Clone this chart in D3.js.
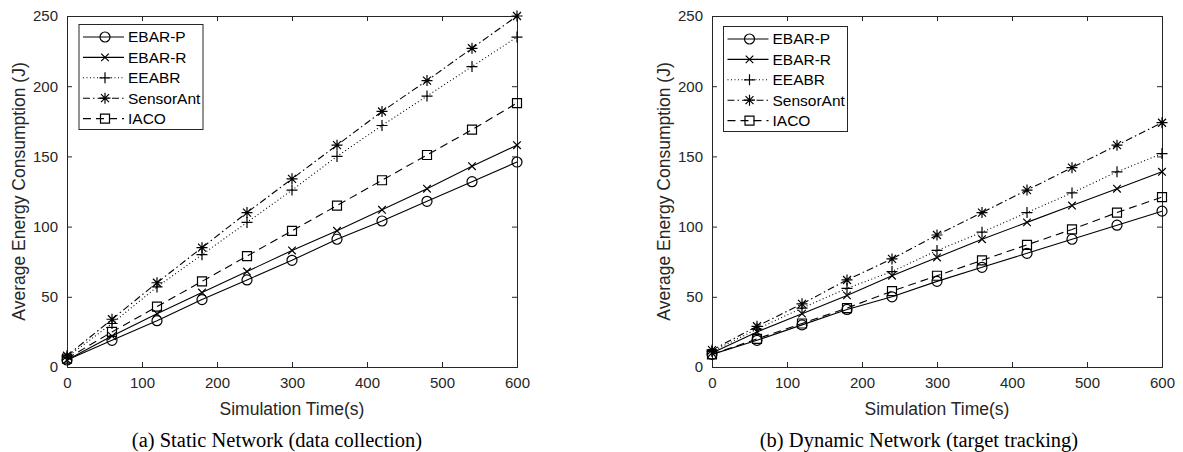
<!DOCTYPE html>
<html><head><meta charset="utf-8">
<script src="https://cdn.jsdelivr.net/npm/d3@7"></script>
<style>body{margin:0;background:#fff}svg{display:block}</style>
</head><body>
<svg id="c" width="1183" height="452"></svg>
<script>
const times = [0,60,120,180,240,300,360,420,480,540,600];
const seriesNames = ["EBAR-P","EBAR-R","EEABR","SensorAnt","IACO"];
const staticEBARP     = [5,19,33,48,62,76,91,104,118,132,146];
const staticEBARR     = [5,22,38,53,68,83,97,112,127,143,158];
const staticEEABR     = [7,31,57,80,103,126,150,172,193,214,235];
const staticSensorAnt = [8,34,60,85,110,134,158,182,204,227,250];
const staticIACO      = [6,25,43,61,79,97,115,133,151,169,188];
const dynEBARP     = [9,19,30,41,50,61,71,81,91,101,111];
const dynEBARR     = [10,25,38,51,65,78,91,103,115,127,139];
const dynEEABR     = [11,27,42,56,68,83,96,110,124,139,152];
const dynSensorAnt = [12,29,45,62,77,94,110,126,142,158,174];
const dynIACO      = [9,20,31,42,54,65,76,87,98,110,121];
const xTicks = [0,100,200,300,400,500,600];
const yTicks = [0,50,100,150,200,250];
const xLabel = "Simulation Time(s)";
const yLabel = "Average Energy Consumption (J)";
const captions = ["(a) Static Network (data collection)","(b) Dynamic Network (target tracking)"];

const styles = {
  "EBAR-P":   {dash:null, marker:"circle"},
  "EBAR-R":   {dash:null, marker:"x"},
  "EEABR":    {dash:"1,2.5", marker:"plus"},
  "SensorAnt":{dash:"7,3,1.5,3", marker:"star"},
  "IACO":     {dash:"8,5", marker:"square"}
};
const axisCol = "#262626";
const svg = d3.select("#c");

function markerPath(type){
  const p = d3.path();
  if(type==="circle"){ p.moveTo(5,0); p.arc(0,0,5,0,2*Math.PI); }
  else if(type==="square"){ p.rect(-4.5,-4.5,9,9); }
  else if(type==="x"){ p.moveTo(-3.8,-3.8);p.lineTo(3.8,3.8);p.moveTo(-3.8,3.8);p.lineTo(3.8,-3.8); }
  else if(type==="plus"){ p.moveTo(-5.5,0);p.lineTo(5.5,0);p.moveTo(0,-5.5);p.lineTo(0,5.5); }
  else if(type==="star"){ p.moveTo(-5.5,0);p.lineTo(5.5,0);p.moveTo(0,-5.5);p.lineTo(0,5.5);
    p.moveTo(-4,-4);p.lineTo(4,4);p.moveTo(-4,4);p.lineTo(4,-4); }
  return p.toString();
}

function panel(x0,x1,y0,y1,data,capX,legX,legY){
  const g = svg.append("g");
  const x = d3.scaleLinear().domain([0,600]).range([x0,x1]);
  const y = d3.scaleLinear().domain([0,250]).range([y1,y0]);
  const ax = d3.axisBottom(x).tickValues(xTicks).tickSize(-5).tickPadding(10).tickFormat(d3.format("d"));
  const ay = d3.axisLeft(y).tickValues(yTicks).tickSize(-5).tickPadding(9).tickFormat(d3.format("d"));
  const axT = d3.axisTop(x).tickValues(xTicks).tickSize(-5).tickFormat("");
  const ayR = d3.axisRight(y).tickValues(yTicks).tickSize(-5).tickFormat("");
  const styleAxis = s => { s.select(".domain").attr("stroke",axisCol);
    s.selectAll("line").attr("stroke",axisCol);
    s.selectAll("text").attr("fill",axisCol).style("font-family","'Liberation Sans',Arial,sans-serif").style("font-size","15px"); };
  g.append("g").attr("transform",`translate(0,${y1})`).call(ax).call(styleAxis);
  g.append("g").attr("transform",`translate(${x0},0)`).call(ay).call(styleAxis);
  g.append("g").attr("transform",`translate(0,${y0})`).call(axT).call(styleAxis);
  g.append("g").attr("transform",`translate(${x1},0)`).call(ayR).call(styleAxis);
  const line = d3.line().x((d,i)=>x(times[i])).y(d=>y(d));
  seriesNames.forEach((name,k)=>{
    const st = styles[name], vals = data[k];
    g.append("path").attr("d",line(vals)).attr("fill","none").attr("stroke","#000")
      .attr("stroke-width",1.1).attr("stroke-dasharray",st.dash);
    g.selectAll(null).data(vals).enter().append("path")
      .attr("transform",(d,i)=>`translate(${x(times[i])},${y(d)})`)
      .attr("d",markerPath(st.marker)).attr("fill","none").attr("stroke","#000").attr("stroke-width",1.2);
  });
  g.append("text").attr("x",(x0+x1)/2).attr("y",415).attr("text-anchor","middle")
    .attr("fill",axisCol).style("font-family","'Liberation Sans',Arial,sans-serif").style("font-size","17.5px").text(xLabel);
  g.append("text").attr("transform",`translate(${x0-42},${(y0+y1)/2}) rotate(-90)`).attr("text-anchor","middle")
    .attr("fill",axisCol).style("font-family","'Liberation Sans',Arial,sans-serif").style("font-size","17.5px").text(yLabel);
  g.append("text").attr("x",capX).attr("y",447).attr("text-anchor","middle").attr("fill","#000")
    .style("font-family","'Liberation Serif','Times New Roman',serif").style("font-size","20.5px").text(data.caption);
  const lw=124, lh=105, rowH=20.4;
  const lg = g.append("g").attr("transform",`translate(${legX},${legY})`);
  lg.append("rect").attr("x",0).attr("y",0).attr("width",lw).attr("height",lh).attr("fill","#fff").attr("stroke",axisCol).attr("stroke-width",1);
  seriesNames.forEach((name,k)=>{
    const st = styles[name], cy = 12.5 + k*rowH;
    lg.append("line").attr("x1",4).attr("x2",45).attr("y1",cy).attr("y2",cy).attr("stroke","#000").attr("stroke-width",1.1).attr("stroke-dasharray",st.dash);
    lg.append("path").attr("transform",`translate(26,${cy})`).attr("d",markerPath(st.marker)).attr("fill","none").attr("stroke","#000").attr("stroke-width",1.2);
    lg.append("text").attr("x",49).attr("y",cy+5.3).attr("fill","#000")
      .style("font-family","'Liberation Sans',Arial,sans-serif").style("font-size","15.5px").text(name);
  });
}
const sData = [staticEBARP,staticEBARR,staticEEABR,staticSensorAnt,staticIACO]; sData.caption = captions[0];
const dData = [dynEBARP,dynEBARR,dynEEABR,dynSensorAnt,dynIACO]; dData.caption = captions[1];
panel(67,517,16,367,sData,277,79,24.5);
panel(712,1162,16,367,dData,919,723.5,26.5);
</script>
</body></html>
